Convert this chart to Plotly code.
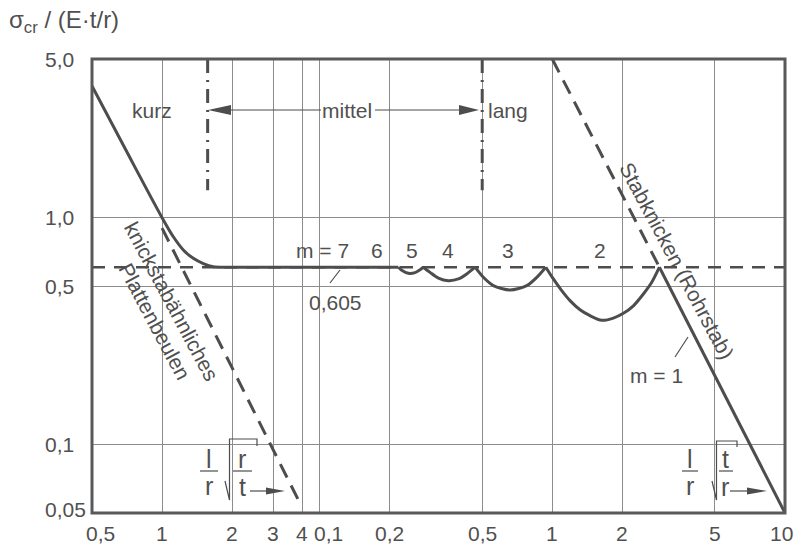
import math
import plotly.graph_objects as go

# ---------------- data ----------------
# broken x axis: left part l/r*sqrt(r/t) (0.5 .. ~4.75), right part l/r*sqrt(t/r) (0.1 .. 10)
K = 47.5  # right-part value v is plotted at v*K on the shared log axis

x_ticks_left = [0.5, 1, 2, 3, 4]
x_labels_left = ["0,5", "1", "2", "3", "4"]
x_ticks_right = [0.1, 0.2, 0.5, 1, 2, 5, 10]
x_labels_right = ["0,1", "0,2", "0,5", "1", "2", "5", "10"]
y_ticks = [5.0, 1.0, 0.5, 0.1, 0.05]
y_labels = ["5,0", "1,0", "0,5", "0,1", "0,05"]

# solid curve, left part (short cylinders -> plateau)
left_curve_x = [0.5, 0.7, 1.0, 1.118, 1.234, 1.362, 1.504, 1.66, 1.85]
left_curve_y = [3.8, 1.98, 1.0, 0.824, 0.721, 0.662, 0.628, 0.608, 0.605]
plateau_y = 0.605
plateau_start_left = 1.85
plateau_end_right = 0.218

# scallops (right part), modes m = 5, 4, 3, 2
arc_m5_x = [0.2182, 0.2255, 0.2408, 0.2572, 0.2703, 0.2793]
arc_m5_y = [0.605, 0.587, 0.569, 0.573, 0.590, 0.605]
arc_m4_x = [0.2793, 0.2984, 0.324, 0.3577, 0.395, 0.429, 0.466]
arc_m4_y = [0.605, 0.574, 0.542, 0.528, 0.537, 0.565, 0.605]
arc_m3_x = [0.466, 0.5057, 0.558, 0.6587, 0.7768, 0.858, 0.938]
arc_m3_y = [0.605, 0.546, 0.502, 0.480, 0.502, 0.546, 0.605]
arc_m2_x = [0.938, 1.011, 1.098, 1.192, 1.316, 1.453, 1.632, 1.83, 2.021, 2.231, 2.463, 2.676, 2.886]
arc_m2_y = [0.605, 0.537, 0.477, 0.431, 0.393, 0.370, 0.353, 0.361, 0.379, 0.409, 0.461, 0.519, 0.605]

# column buckling (m = 1)
euler_solid_x = [2.886, 10.0]
euler_solid_y = [0.605, 0.05]
euler_dash_x = [1.0, 2.886]
euler_dash_y = [5.0, 0.605]

# plate-like buckling (dashed, left part)
plate_dash_x = [1.0, 3.92]
plate_dash_y = [0.90, 0.055]

# reference level 0.605 (dashed, across both parts)
ref_x_left = [0.5]
ref_x_right = [10.0]

# range boundaries kurz / mittel / lang
bound_kurz_left = 1.57
bound_lang_right = 0.5
bound_y = [5.0, 1.32]

mode_labels = ["m = 7", "6", "5", "4", "3", "2"]

# ---------------- layout helpers ----------------
W, H = 797, 545
ML, MR, MT, MB = 92, 12, 59, 32
PW = W - ML - MR
PH = H - MT - MB


def px(x):
    return (x - ML) / PW


def py(y):
    return (H - MB - y) / PH


def path(points, close=False):
    s = "M " + " L ".join(f"{px(a):.5f},{py(b):.5f}" for a, b in points)
    return s + (" Z" if close else "")


INK = "#4d4d4d"
TXT = "#505050"
GRID = "#8c8c8c"
FONT = "Liberation Sans, Arial, sans-serif"

fig = go.Figure()


def line(x, y, dash="solid", shape="linear", width=3):
    fig.add_trace(go.Scatter(x=x, y=y, mode="lines", hoverinfo="skip",
                             line=dict(color=INK, width=width, dash=dash, shape=shape, smoothing=0.8)))


R = lambda xs: [v * K for v in xs]

# dashed lines
line(ref_x_left + R(ref_x_right), [plateau_y, plateau_y], dash="13px,9px", width=2.6)
line(plate_dash_x, plate_dash_y, dash="15px,9px", width=3)
line(R(euler_dash_x), euler_dash_y, dash="15px,9px", width=3)

# solid curve
line(left_curve_x, left_curve_y, shape="spline")
line([plateau_start_left, plateau_end_right * K], [plateau_y, plateau_y])
for ax_, ay_ in [(arc_m5_x, arc_m5_y), (arc_m4_x, arc_m4_y), (arc_m3_x, arc_m3_y), (arc_m2_x, arc_m2_y)]:
    line(R(ax_), ay_, shape="spline")
line(R(euler_solid_x), euler_solid_y)

# ---------------- shapes ----------------
shapes = []
# masks where the grid is interrupted by the axis formulas
shapes.append(dict(type="rect", xref="paper", yref="paper", x0=px(194), x1=px(263), y0=py(503), y1=py(426),
                   fillcolor="white", line=dict(width=0), layer="between"))
shapes.append(dict(type="rect", xref="paper", yref="paper", x0=px(680), x1=px(740), y0=py(503), y1=py(439),
                   fillcolor="white", line=dict(width=0), layer="between"))
# range boundaries (dash-dot)
for xb in [bound_kurz_left, bound_lang_right * K]:
    shapes.append(dict(type="line", xref="x", yref="y", x0=xb, x1=xb, y0=bound_y[0], y1=bound_y[1],
                       line=dict(color=INK, width=3, dash="14px,7px,2px,7px"), layer="above"))
# arrows kurz <- mittel -> lang
thin = dict(color=INK, width=1.2)
shapes.append(dict(type="line", xref="paper", yref="paper", x0=px(229), x1=px(321), y0=py(110), y1=py(110), line=thin))
shapes.append(dict(type="line", xref="paper", yref="paper", x0=px(375), x1=px(462), y0=py(110), y1=py(110), line=thin))
shapes.append(dict(type="path", xref="paper", yref="paper", path=path([(208, 110), (231, 105), (231, 115)], True),
                   fillcolor=INK, line=dict(width=0)))
shapes.append(dict(type="path", xref="paper", yref="paper", path=path([(479, 110), (459, 105), (459, 115)], True),
                   fillcolor=INK, line=dict(width=0)))
# leader lines
shapes.append(dict(type="line", xref="paper", yref="paper", x0=px(330), x1=px(340), y0=py(283), y1=py(270), line=thin))
shapes.append(dict(type="line", xref="paper", yref="paper", x0=px(675), x1=px(688), y0=py(357), y1=py(337), line=thin))
# axis formulas: fraction bars, root signs, arrows
for (a, b) in [(200, 218), (233, 252), (682, 698), (719, 733)]:
    shapes.append(dict(type="line", xref="paper", yref="paper", x0=px(a), x1=px(b), y0=py(471), y1=py(471), line=thin))
shapes.append(dict(type="path", xref="paper", yref="paper",
                   path=path([(225, 481), (229.5, 500), (229.5, 439), (257, 439), (257, 446)]), line=thin))
shapes.append(dict(type="path", xref="paper", yref="paper",
                   path=path([(712, 481), (716.5, 500), (716.5, 441), (737, 441), (737, 447)]), line=thin))
for (a, b, c) in [(250, 268, 285), (730, 749, 767)]:
    shapes.append(dict(type="line", xref="paper", yref="paper", x0=px(a), x1=px(b), y0=py(491), y1=py(491), line=thin))
    shapes.append(dict(type="path", xref="paper", yref="paper",
                       path=path([(c, 491), (b - 2, 487.5), (b - 2, 494.5)], True), fillcolor=INK, line=dict(width=0)))
# frame
shapes.append(dict(type="rect", xref="paper", yref="paper", x0=0, x1=1, y0=0, y1=1,
                   line=dict(color="#595959", width=3), layer="above"))

# ---------------- annotations ----------------
ann = []


def text(t, x, y, size=21, angle=0, xanchor="center", **kw):
    ann.append(dict(text=t, xref="paper", yref="paper", x=px(x), y=py(y), showarrow=False,
                    xanchor=xanchor, yanchor="middle", textangle=angle,
                    font=dict(family=FONT, size=size, color=TXT), **kw))


# tick labels
x_shift_left = {"0,5": 8}
x_shift_right = {"0,1": 9, "10": -4}
for v, t in zip(x_ticks_left, x_labels_left):
    ann.append(dict(text=t, xref="x", yref="paper", x=math.log10(v), y=py(533), showarrow=False,
                    xanchor="center", yanchor="middle", xshift=x_shift_left.get(t, 0),
                    font=dict(family=FONT, size=21, color=TXT)))
for v, t in zip(x_ticks_right, x_labels_right):
    ann.append(dict(text=t, xref="x", yref="paper", x=math.log10(v * K), y=py(533), showarrow=False,
                    xanchor="center", yanchor="middle", xshift=x_shift_right.get(t, 0),
                    font=dict(family=FONT, size=21, color=TXT)))
for v, t in zip(y_ticks, y_labels):
    ann.append(dict(text=t, xref="paper", yref="y", x=px(43), y=math.log10(v), showarrow=False,
                    xanchor="left", yanchor="middle", yshift=4 if t == "0,05" else 0,
                    font=dict(family=FONT, size=21, color=TXT)))

text("σ<sub>cr</sub> / (E·t/r)", 7, 21, size=24, xanchor="left")
text("kurz", 152, 110)
text("mittel", 347, 110)
text("lang", 508, 110)
for t, x in zip(mode_labels, [322, 377, 412, 448, 508, 600]):
    text(t, x, 250)
text("0,605", 335, 302)
text("m = 1", 656, 375)
text("knickstabähnliches", 172, 301, angle=62)
text("Plattenbeulen", 155, 321, angle=62)
text("Stabknicken (Rohrstab)", 677, 260, angle=62)
# formula letters
for t, x, y in [("l", 209, 459), ("r", 209, 486), ("r", 242, 459), ("t", 242, 487),
                ("l", 690, 459), ("r", 690, 486), ("t", 725, 459), ("r", 725, 487)]:
    text(t, x, y, size=25)

grid = dict(showgrid=True, gridcolor=GRID, gridwidth=1, zeroline=False, showline=False,
            showticklabels=False, ticks="")
fig.update_layout(
    width=W, height=H, margin=dict(l=ML, r=MR, t=MT, b=MB),
    paper_bgcolor="white", plot_bgcolor="white", showlegend=False,
    xaxis=dict(type="log", range=[math.log10(0.5), math.log10(10 * K)],
               tickvals=x_ticks_left[1:] + R(x_ticks_right[:-1]), **grid),
    yaxis=dict(type="log", range=[math.log10(0.05), math.log10(5)], tickvals=[0.1, 0.5, 1.0], **grid),
    shapes=shapes, annotations=ann,
)
fig.write_html("out.html", config={"displayModeBar": False},
               post_script="document.body.style.margin='0';document.body.style.overflow='hidden';")
